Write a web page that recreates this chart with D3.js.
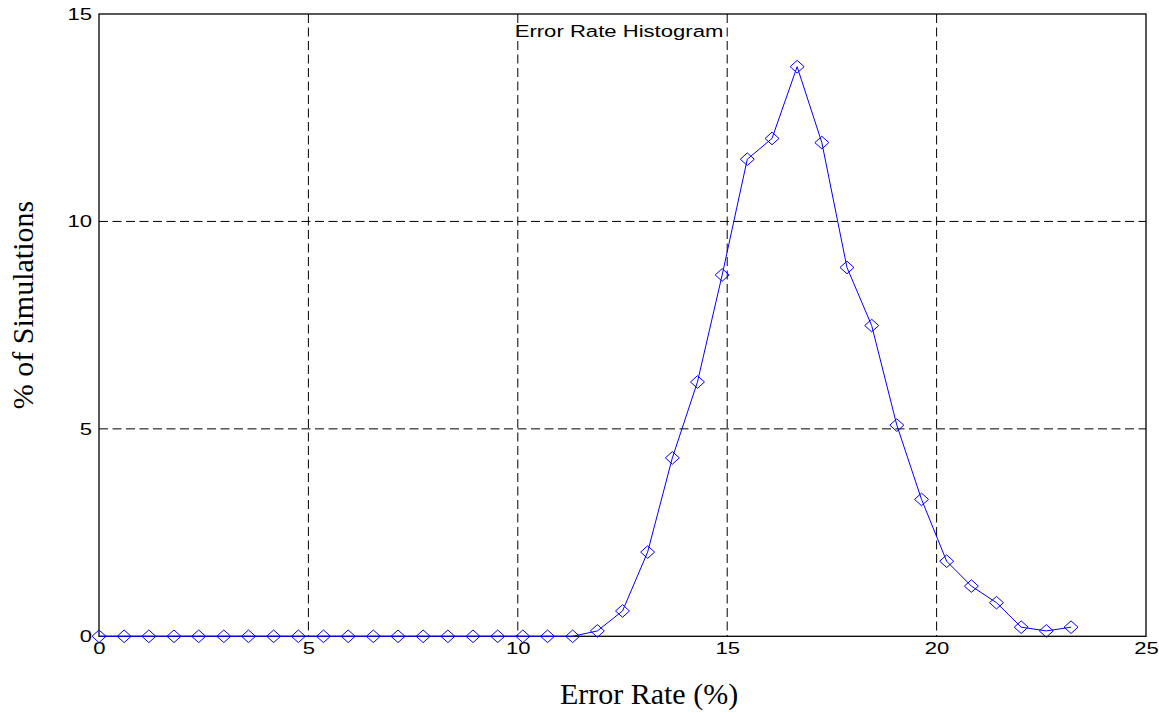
<!DOCTYPE html>
<html>
<head>
<meta charset="utf-8">
<script src="https://cdn.jsdelivr.net/npm/d3@7"></script>
<style>
  html, body { margin: 0; padding: 0; background: #fff; }
  svg { display: block; }
</style>
</head>
<body>
<svg id="chart" width="1159" height="713"></svg>
<script>
// ---- data ----
const errorRates = [0, 0.60, 1.19, 1.79, 2.38, 2.98, 3.57, 4.17, 4.76, 5.36,
  5.95, 6.55, 7.14, 7.74, 8.33, 8.93, 9.52, 10.12, 10.71, 11.31,
  11.90, 12.50, 13.10, 13.69, 14.29, 14.88, 15.48, 16.07, 16.67, 17.26,
  17.86, 18.45, 19.05, 19.64, 20.24, 20.83, 21.43, 22.02, 22.62, 23.21];
const pctSimulations = [0, 0, 0, 0, 0, 0, 0, 0, 0, 0,
  0, 0, 0, 0, 0, 0, 0, 0, 0, 0,
  0.13, 0.61, 2.03, 4.3, 6.13, 8.71, 11.5, 12.0, 13.73, 11.9,
  8.89, 7.49, 5.09, 3.3, 1.81, 1.21, 0.81, 0.22, 0.13, 0.22];
const xTicks = [0, 5, 10, 15, 20, 25];
const yTicks = [0, 5, 10, 15];
const xGrid = [5, 10, 15, 20];
const yGrid = [5, 10];
const titleText = "Error Rate Histogram";
const xLabelText = "Error Rate (%)";
const yLabelText = "% of Simulations";

// ---- layout ----
const svg = d3.select("#chart");
const L = 99, R = 1146, T = 14, B = 636.3;
const x = d3.scaleLinear().domain([0, 25]).range([L, R]);
const y = d3.scaleLinear().domain([0, 15]).range([B, T]);
const sx = 1.3; // horizontal stretch of sans text
const sansFont = "'Liberation Sans', Arial, sans-serif";
const serifFont = "'Liberation Serif', 'Times New Roman', serif";

svg.append("rect").attr("width", 1159).attr("height", 713).attr("fill", "#fff");

// grid
const grid = svg.append("g").attr("stroke", "#000").attr("stroke-width", 1)
  .attr("stroke-dasharray", "9,4.5");
grid.selectAll("line.vx").data(xGrid).join("line")
  .attr("x1", d => x(d)).attr("x2", d => x(d)).attr("y1", T).attr("y2", B);
grid.selectAll("line.hy").data(yGrid).join("line")
  .attr("x1", L).attr("x2", R).attr("y1", d => y(d)).attr("y2", d => y(d));

// axes
const xAxis = d3.axisBottom(x).tickValues(xTicks).tickSize(0).tickPadding(6).tickFormat(d3.format("d"));
const yAxis = d3.axisLeft(y).tickValues(yTicks).tickSize(0).tickPadding(7).tickFormat(d3.format("d"));

const gx = svg.append("g").attr("transform", `translate(0,${B})`).call(xAxis);
const gy = svg.append("g").attr("transform", `translate(${L},0)`).call(yAxis);
[gx, gy].forEach(g => {
  g.select(".domain").remove();
  g.selectAll("text").attr("font-family", sansFont).attr("font-size", 17)
    .attr("fill", "#000").attr("transform", `scale(${sx},1)`);
});
gy.selectAll("text").attr("x", -7 / sx);

// frame
svg.append("rect").attr("x", L).attr("y", T).attr("width", R - L).attr("height", B - T)
  .attr("fill", "none").attr("stroke", "#000").attr("stroke-width", 1.3);

// title
svg.append("text").attr("transform", `translate(619,37) scale(${sx},1)`)
  .attr("text-anchor", "middle").attr("font-family", sansFont).attr("font-size", 17)
  .attr("fill", "#000").text(titleText);

// axis labels
svg.append("text").attr("x", 649).attr("y", 704).attr("text-anchor", "middle")
  .attr("font-family", serifFont).attr("font-size", 30).attr("fill", "#000").text(xLabelText);
svg.append("text").attr("transform", "translate(33,305) rotate(-90)").attr("text-anchor", "middle")
  .attr("font-family", serifFont).attr("font-size", 30).attr("fill", "#000").text(yLabelText);

// series
const pts = errorRates.map((d, i) => [d, pctSimulations[i]]);
svg.append("path").datum(pts)
  .attr("fill", "none").attr("stroke", "#0000ff").attr("stroke-width", 1)
  .attr("d", d3.line().x(d => x(d[0])).y(d => y(d[1])));

const hw = 7, hh = 6.3;
svg.append("g").selectAll("path").data(pts).join("path")
  .attr("fill", "none").attr("stroke", "#0000ff").attr("stroke-width", 1)
  .attr("d", d => {
    const cx = x(d[0]), cy = y(d[1]);
    return `M${cx},${cy - hh}L${cx + hw},${cy}L${cx},${cy + hh}L${cx - hw},${cy}Z`;
  });
</script>
</body>
</html>
